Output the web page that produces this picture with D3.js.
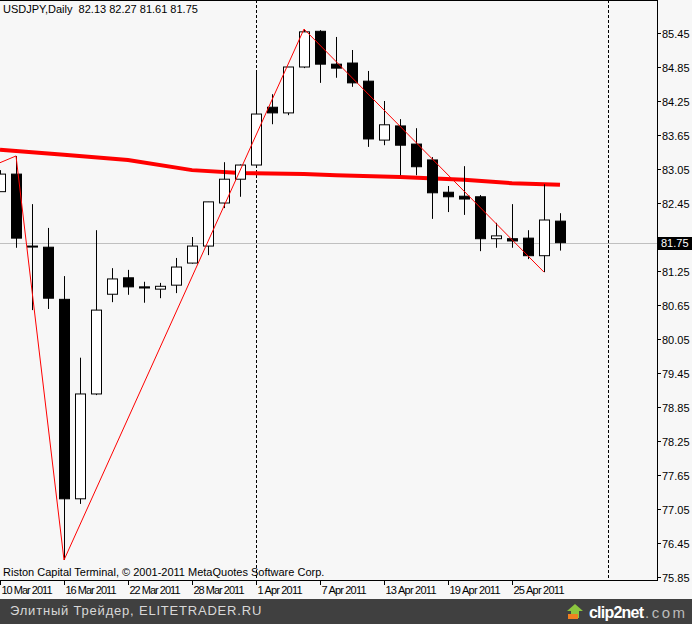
<!DOCTYPE html>
<html><head><meta charset="utf-8">
<script src="https://cdn.jsdelivr.net/npm/d3@7"></script>
<style>body{margin:0;background:#f7f7f7}svg{display:block}text{font-family:"Liberation Sans",Arial,sans-serif}</style>
</head><body><svg id="c" width="692" height="624"></svg>
<script>
var dates = ["10 Mar","11 Mar","14 Mar","15 Mar","16 Mar","17 Mar","18 Mar","21 Mar","22 Mar","23 Mar","24 Mar","25 Mar","28 Mar","29 Mar","30 Mar","31 Mar",
  "1 Apr","4 Apr","5 Apr","6 Apr","7 Apr","8 Apr","11 Apr","12 Apr","13 Apr","14 Apr","15 Apr","18 Apr","19 Apr","20 Apr","21 Apr","22 Apr","25 Apr","26 Apr","27 Apr","28 Apr"]
var opens  = [82.65,82.96,81.68,81.67,80.75,77.23,79.08,80.84,81.13,80.97,80.93,81.00,81.39,81.69,82.45,82.87,83.12,84.14,84.04,84.85,85.48,84.90,84.92,84.60,83.56,83.81,83.49,83.21,82.64,82.57,82.56,81.82,81.82,81.83,81.52,82.13]
var highs  = [83.03,83.28,82.43,82.01,81.16,79.72,81.97,81.30,81.27,81.06,81.04,81.48,81.85,82.47,83.17,83.13,84.76,84.37,84.85,85.52,85.50,85.38,85.15,84.78,84.25,83.93,83.77,83.26,82.75,83.10,82.59,82.10,82.43,81.97,82.78,82.27]
var lows   = [82.70,81.66,80.56,80.58,76.15,77.14,79.06,80.70,80.83,80.69,80.77,80.86,81.38,81.53,82.36,82.56,83.10,83.84,84.00,84.83,84.57,84.66,84.50,83.44,83.47,82.94,82.94,82.17,82.29,82.24,81.60,81.66,81.66,81.46,81.23,81.61]
var closes = [82.96,81.83,81.69,80.77,77.23,79.08,80.56,81.11,80.97,80.95,80.98,81.32,81.69,82.47,82.87,83.12,84.02,84.04,84.85,85.47,84.90,84.83,84.57,83.58,83.83,83.47,83.09,82.63,82.56,82.52,81.82,81.87,81.78,81.52,82.15,81.75]
var maIdx = [0,4,8,12,15,19,21,25,29,32,35]
var maVal = [83.39,83.30,83.21,83.03,82.98,82.96,82.94,82.91,82.86,82.80,82.77]
var zzIdx = [-0.6,1,4,19,34]
var zzVal = [83.09,83.28,76.15,85.52,81.23]
var priceTicks = d3.range(17).map(function(i){ return +(85.45 - i*0.6).toFixed(2) })
var dateTicks = ["10 Mar 2011","16 Mar 2011","22 Mar 2011","28 Mar 2011","1 Apr 2011","7 Apr 2011","13 Apr 2011","19 Apr 2011","25 Apr 2011"]
var dateTickIdx = [0,4,8,12,16,20,24,28,32]
var last = 81.75

var svg = d3.select("#c")
var W = 657, H = 580
var x = d3.scaleLinear().domain([0,1]).range([0,16])
var y = d3.scaleLinear().domain([75.85,85.45]).range([577,33])

svg.append("rect").attr("width",692).attr("height",624).attr("fill","#f7f7f7")
var g = svg.append("g")
g.append("clipPath").attr("id","clp").append("rect").attr("width",W).attr("height",H)
var p = g.append("g").attr("clip-path","url(#clp)")

// dashed period separators
;[16,38].forEach(function(i){
  p.append("line").attr("x1",x(i)+0.5).attr("x2",x(i)+0.5).attr("y1",0).attr("y2",H)
    .attr("stroke","#000").attr("stroke-dasharray","3,2")
})
// last price line
p.append("line").attr("x1",0).attr("x2",W).attr("y1",Math.round(y(last))+0.5).attr("y2",Math.round(y(last))+0.5).attr("stroke","#c0c0c0")

// MA
p.append("path").datum(maIdx.map(function(d,i){return [d,maVal[i]]}))
  .attr("d",d3.line().x(function(d){return x(d[0])}).y(function(d){return y(d[1])}))
  .attr("fill","none").attr("stroke","#ff0000").attr("stroke-width",4)

// candles
var idx = d3.range(dates.length)
var cg = p.selectAll("g.cd").data(idx).enter().append("g")
cg.append("line").attr("x1",function(i){return x(i)+0.5}).attr("x2",function(i){return x(i)+0.5})
  .attr("y1",function(i){return y(highs[i])}).attr("y2",function(i){return y(lows[i])}).attr("stroke","#000")
cg.append("rect").attr("x",function(i){return x(i)-4.5}).attr("width",10)
  .attr("y",function(i){return y(Math.max(opens[i],closes[i]))})
  .attr("height",function(i){return Math.max(1,Math.abs(y(opens[i])-y(closes[i])))})
  .attr("fill",function(i){return closes[i]>=opens[i]?"#fff":"#000"}).attr("stroke","#000")

// zigzag
p.append("path").datum(zzIdx.map(function(d,i){return [d,zzVal[i]]}))
  .attr("d",d3.line().x(function(d){return x(d[0])}).y(function(d){return y(d[1])}))
  .attr("fill","none").attr("stroke","#ff0000").attr("stroke-width",1)

// frame
svg.append("line").attr("x1",0).attr("x2",W).attr("y1",0.5).attr("y2",0.5).attr("stroke","#000")
svg.append("line").attr("x1",W+0.5).attr("x2",W+0.5).attr("y1",0).attr("y2",H).attr("stroke","#000")
svg.append("line").attr("x1",0).attr("x2",W+1).attr("y1",H+0.5).attr("y2",H+0.5).attr("stroke","#000")

// right axis
var ya = svg.append("g")
var ly = Math.round(y(last))
priceTicks.forEach(function(t){
  var yy = Math.round(y(t))+0.5
  ya.append("line").attr("x1",W).attr("x2",W+4).attr("y1",yy).attr("y2",yy).attr("stroke","#000")
  if (Math.abs(yy-ly) > 12)
    ya.append("text").attr("x",W+5).attr("y",yy+4).attr("font-size",11).text(t.toFixed(2))
})
ya.append("rect").attr("x",W+1).attr("y",ly-6).attr("width",35).attr("height",13).attr("fill","#000")
ya.append("text").attr("x",W+4).attr("y",ly+4).attr("font-size",11).attr("fill","#fff").text(last.toFixed(2))

// bottom axis
dateTickIdx.forEach(function(d,i){
  var xx = x(d)+0.5
  svg.append("line").attr("x1",xx).attr("x2",xx).attr("y1",H).attr("y2",H+5).attr("stroke","#000")
  svg.append("text").attr("x",xx+1).attr("y",H+14).attr("font-size",11).attr("textLength",dateTicks[i].length>10?51:45).text(dateTicks[i])
})

svg.append("text").attr("x",3).attr("y",13).attr("font-size",11).attr("xml:space","preserve").text("USDJPY,Daily  82.13 82.27 81.61 81.75")
svg.append("text").attr("x",3).attr("y",576).attr("font-size",11).text("Riston Capital Terminal, © 2001-2011 MetaQuotes Software Corp.")

// footer
svg.append("rect").attr("x",0).attr("y",599).attr("width",692).attr("height",25).attr("fill","#404040")
svg.append("text").attr("x",10).attr("y",615).attr("font-size",13).attr("fill","#d8d8d8").attr("letter-spacing",0.8).text("Элитный Трейдер, ELITETRADER.RU")
svg.append("path").attr("d","M575,604 L583,611 L579,611 L579,618 L571,618 L571,611 L567,611 Z").attr("fill","#8cc63f")
svg.append("rect").attr("x",568).attr("y",614).attr("width",10).attr("height",5).attr("fill","#f08020")
svg.append("text").attr("x",589).attr("y",618).attr("font-size",16).attr("font-weight","bold").attr("fill","#fff").attr("textLength",55).text("clip2net")
svg.append("text").attr("x",645).attr("y",618).attr("font-size",15).attr("fill","#bbb").attr("textLength",40).text(".com")
</script></body></html>
